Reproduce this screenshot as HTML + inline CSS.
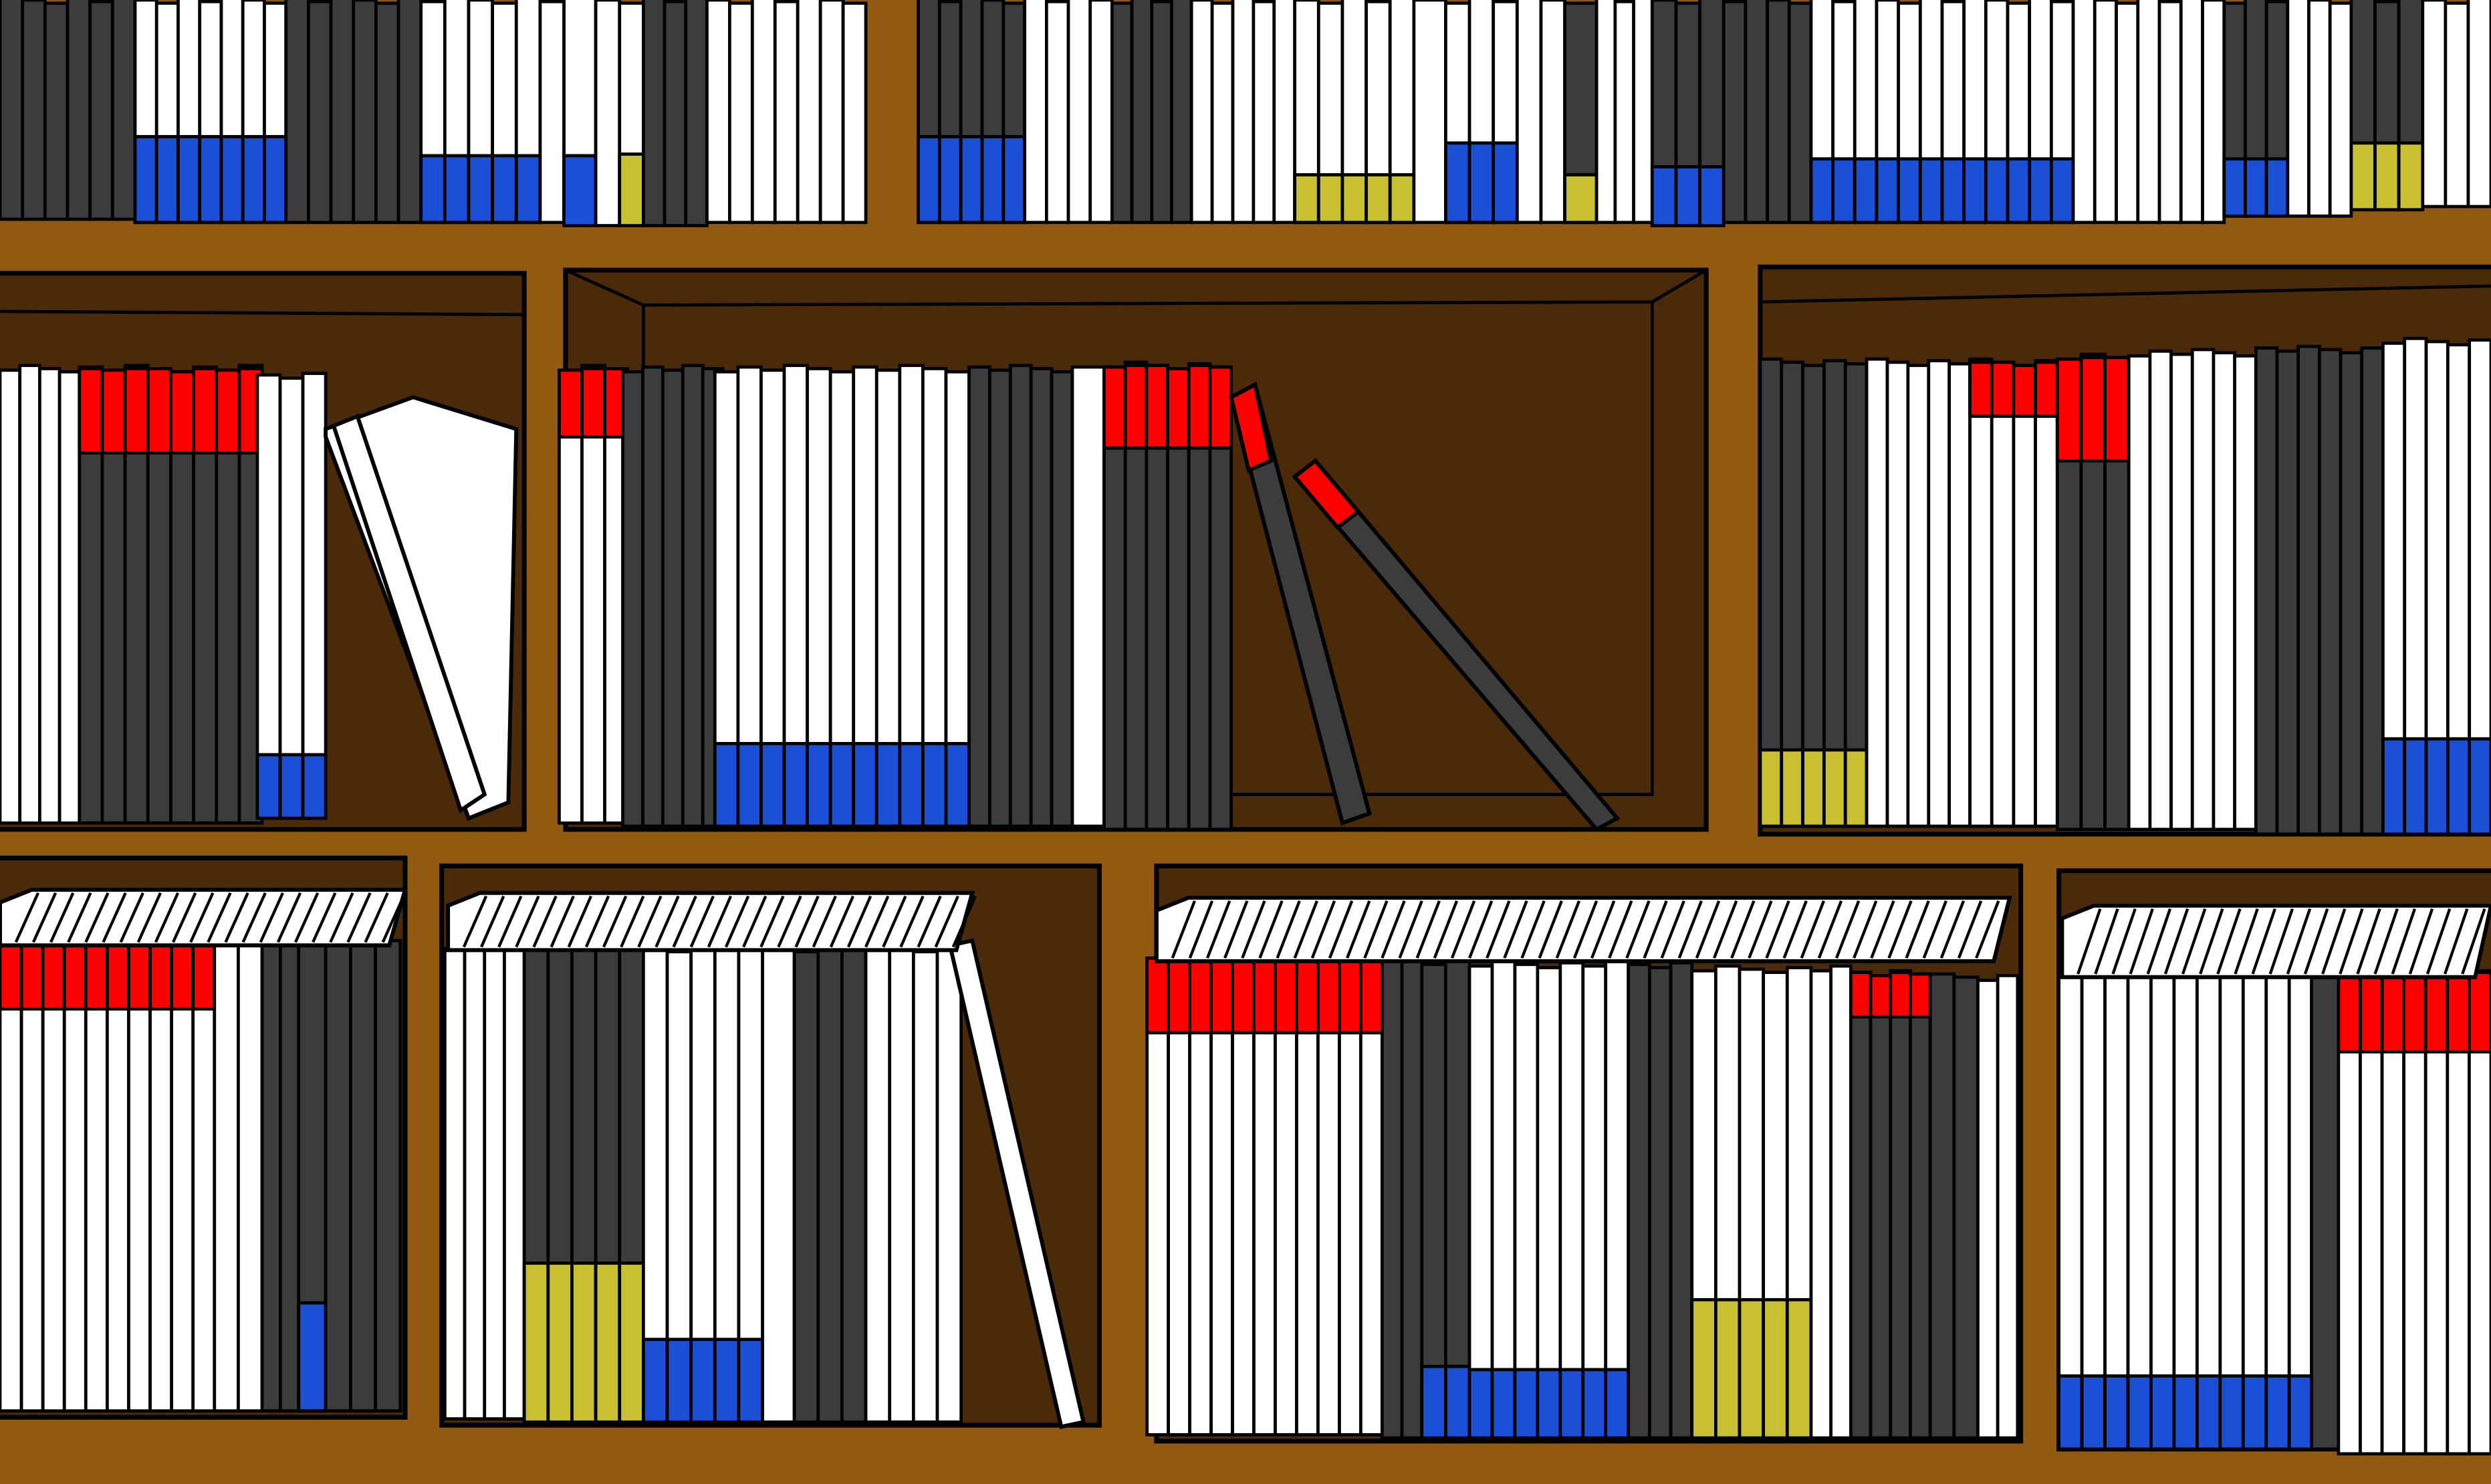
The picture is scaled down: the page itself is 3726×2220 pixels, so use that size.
<!DOCTYPE html>
<html><head><meta charset="utf-8"><style>
html,body{margin:0;padding:0;background:#925a10;overflow:hidden}
svg{display:block}
</style></head><body>
<svg id="s" xmlns="http://www.w3.org/2000/svg" width="3726" height="2220" viewBox="0 0 1568 934" preserveAspectRatio="none">
<rect x="0" y="0" width="1568" height="934" fill="#925a10"/>
<g id="cub" stroke="#000" stroke-width="3" fill="#4a2a08">
<rect x="-5" y="172" width="335" height="350"/>
<rect x="356" y="170" width="718" height="352"/>
<rect x="1108" y="168" width="470" height="357"/>
<rect x="-5" y="540" width="260" height="352"/>
<rect x="278" y="545" width="414" height="352"/>
<rect x="728" y="545" width="544" height="362"/>
<rect x="1296" y="548" width="280" height="364"/>
</g>
<path d="M356 170 L405 192 L1040 190 L1074 170 M405 192 L405 500 L1040 500 L1040 190" stroke="#000" stroke-width="2" fill="none"/>
<path d="M0 196 L330 198 M1108 190 L1568 180" stroke="#000" stroke-width="2" fill="none"/>
<g id="books"></g>
</svg>
<script>
var DARK='#3c3c3c',WHITE='#ffffff',RED='#ff0000',BLUE='#1a4fd6',YEL='#c8c030';
// runs: x0, x1, yTop, yBot, color, bandColor, bandY0, bandY1
var runs=[
[0,85,0,138,DARK,null,0,0],
[85,180,0,140,WHITE,BLUE,86,140],
[180,265,0,140,DARK,null,0,0],
[265,340,0,140,WHITE,BLUE,98,140],
[340,355,0,140,WHITE,null,0,0],
[355,375,0,142,WHITE,BLUE,98,142],
[375,390,0,142,WHITE,null,0,0],
[390,405,0,142,WHITE,YEL,97,142],
[405,445,0,142,DARK,null,0,0],
[445,545,0,140,WHITE,null,0,0],
[578,645,0,140,DARK,BLUE,86,140],
[645,700,0,140,WHITE,null,0,0],
[700,750,0,140,DARK,null,0,0],
[750,815,0,140,WHITE,null,0,0],
[815,890,0,140,WHITE,YEL,110,140],
[890,910,0,140,WHITE,null,0,0],
[910,955,0,140,WHITE,BLUE,90,140],
[955,985,0,140,WHITE,null,0,0],
[985,1005,0,140,DARK,YEL,110,140],
[1005,1040,0,140,WHITE,null,0,0],
[1040,1085,0,142,DARK,BLUE,105,142],
[1085,1140,0,140,DARK,null,0,0],
[1140,1305,0,140,WHITE,BLUE,100,140],
[1305,1400,0,140,WHITE,null,0,0],
[1400,1440,0,136,DARK,BLUE,100,136],
[1440,1480,0,136,WHITE,null,0,0],
[1480,1525,0,132,DARK,YEL,90,132],
[1525,1568,0,130,WHITE,null,0,0],
[0,50,232,518,WHITE,null,0,0],
[50,165,232,518,DARK,RED,232,285],
[162,205,236,515,WHITE,BLUE,475,515],
[352,395,232,518,WHITE,RED,232,275],
[392,455,232,520,DARK,null,0,0],
[450,610,232,520,WHITE,BLUE,468,520],
[610,675,232,520,DARK,null,0,0],
[675,695,232,520,WHITE,null,0,0],
[695,775,230,522,DARK,RED,230,282],
[1108,1175,228,520,DARK,YEL,472,520],
[1175,1240,228,520,WHITE,null,0,0],
[1240,1295,228,520,WHITE,RED,228,262],
[1295,1340,225,522,DARK,RED,225,290],
[1340,1420,222,522,WHITE,null,0,0],
[1420,1500,220,525,DARK,null,0,0],
[1500,1568,215,525,WHITE,BLUE,465,525],
[0,135,592,888,WHITE,RED,592,635],
[135,165,592,888,WHITE,null,0,0],
[165,188,592,888,DARK,null,0,0],
[188,205,592,888,DARK,BLUE,820,888],
[205,252,592,888,DARK,null,0,0],
[280,330,595,893,WHITE,null,0,0],
[330,405,595,895,DARK,YEL,795,895],
[405,480,597,895,WHITE,BLUE,843,895],
[480,500,597,895,WHITE,null,0,0],
[500,545,597,895,DARK,null,0,0],
[545,605,597,895,WHITE,null,0,0],
[722,870,602,903,WHITE,RED,602,650],
[870,895,605,905,DARK,null,0,0],
[895,925,605,905,DARK,BLUE,860,905],
[925,1025,607,905,WHITE,BLUE,862,905],
[1025,1065,607,905,DARK,null,0,0],
[1065,1140,610,905,WHITE,YEL,818,905],
[1140,1165,610,905,WHITE,null,0,0],
[1165,1215,612,905,DARK,RED,612,640],
[1215,1245,615,905,DARK,null,0,0],
[1245,1270,615,905,WHITE,null,0,0],
[1296,1470,612,912,WHITE,BLUE,866,912],
[1455,1472,612,912,DARK,null,0,0],
[1472,1568,612,915,WHITE,RED,612,662]
];
var NS='http://www.w3.org/2000/svg';
var g=document.getElementById('books');
function mk(t,a){var e=document.createElementNS(NS,t);for(var k in a)e.setAttribute(k,a[k]);return e;}
var bi=0;
runs.forEach(function(r){
  var n=Math.max(1,Math.round((r[1]-r[0])/14)),w=(r[1]-r[0])/n;
  for(var i=0;i<n;i++){
    var x=r[0]+i*w,jit=((bi*7)%5)-2;bi++;
    var book=mk('g',{});
    
    
    book.appendChild(mk('rect',{x:x,y:r[2]+jit,width:w,height:r[3]-r[2]-jit,fill:r[4],stroke:'#000','stroke-width':2}));
    if(r[5]){book.appendChild(mk('rect',{x:x,y:Math.max(r[6],r[2]+jit),width:w,height:r[7]-Math.max(r[6],r[2]+jit),fill:r[5],stroke:'#000','stroke-width':2}));}
    g.appendChild(book);
  }
});
// leaning books
var leans=[
['M205 270 L260 250 L325 270 L320 505 L295 515 L205 275 Z',WHITE],
['M210 268 L225 262 L305 500 L290 510 Z',WHITE],
['M775 250 L790 242 L862 512 L845 518 Z',DARK],
['M775 250 L790 242 L800 290 L786 296 Z',RED],
['M815 300 L828 290 L1018 515 L1005 522 Z',DARK],
['M815 300 L828 290 L855 322 L842 332 Z',RED],
['M598 595 L612 592 L682 895 L668 898 Z',WHITE]
];
leans.forEach(function(l){
  var p=mk('path',{d:l[0],fill:l[1],stroke:'#000','stroke-width':2.5});
  
  
  g.appendChild(p);
});
// top-view strips of bottom row
var strips=[[0,255,560,595],[282,612,562,598],[728,1265,565,605],[1298,1568,570,615]];
strips.forEach(function(s){
  var grp=mk('g',{});
  
  
  grp.appendChild(mk('path',{d:'M'+s[0]+' '+(s[2]+8)+' L'+(s[0]+20)+' '+s[2]+' L'+s[1]+' '+s[2]+' L'+(s[1]-10)+' '+s[3]+' L'+s[0]+' '+s[3]+' Z',fill:WHITE,stroke:'#000','stroke-width':2.5}));
  for(var x=s[0]+10;x<s[1]-10;x+=11){
    grp.appendChild(mk('line',{x1:x+14,y1:s[2]+2,x2:x,y2:s[3]-2,stroke:'#000','stroke-width':1.8}));
  }
  g.appendChild(grp);
});
</script>
</body></html>
